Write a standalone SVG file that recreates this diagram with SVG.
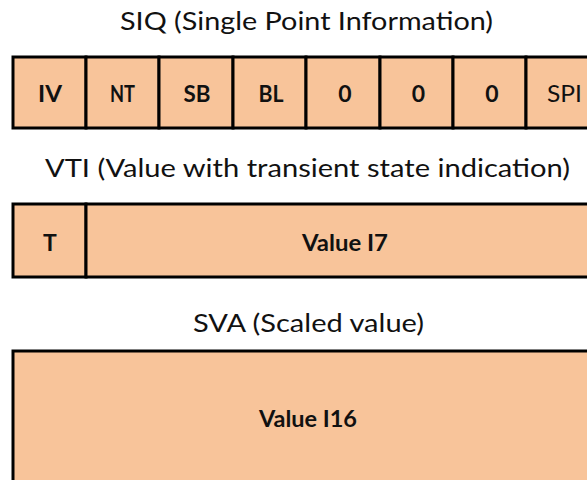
<svg xmlns="http://www.w3.org/2000/svg" width="587" height="480" viewBox="0 0 587 480">
  <style>
    .title { font-family: Lato, "Open Sans", "Liberation Sans", sans-serif; font-size: 25px; fill: #111; }
    .cell { fill: #F8C49A; stroke: #000; stroke-width: 3; }
    .lb { font-family: Lato, "Open Sans", "Liberation Sans", sans-serif; font-size: 23px; font-weight: bold; fill: #111; text-anchor: middle; }
    .ln { font-family: Lato, "Open Sans", "Liberation Sans", sans-serif; font-size: 23px; fill: #111; text-anchor: middle; }
  </style>
  <rect width="587" height="480" fill="#fff"/>

  <g id="siq">
    <text class="title" x="120" y="30" textLength="373" lengthAdjust="spacingAndGlyphs">SIQ (Single Point Information)</text>
    <rect class="cell" x="13" y="57" width="73" height="71"/>
    <rect class="cell" x="86" y="57" width="73" height="71"/>
    <rect class="cell" x="159" y="57" width="74" height="71"/>
    <rect class="cell" x="233" y="57" width="73" height="71"/>
    <rect class="cell" x="306" y="57" width="74" height="71"/>
    <rect class="cell" x="380" y="57" width="73" height="71"/>
    <rect class="cell" x="453" y="57" width="73" height="71"/>
    <rect class="cell" x="526" y="57" width="74" height="71"/>
    <text class="lb" x="50" y="102" textLength="24" lengthAdjust="spacingAndGlyphs">IV</text>
    <text class="lb" x="122.5" y="102" textLength="25" lengthAdjust="spacingAndGlyphs">NT</text>
    <text class="lb" x="197" y="102" textLength="27" lengthAdjust="spacingAndGlyphs">SB</text>
    <text class="lb" x="271" y="102" textLength="25" lengthAdjust="spacingAndGlyphs">BL</text>
    <text class="lb" x="345" y="102">0</text>
    <text class="lb" x="418.5" y="102">0</text>
    <text class="lb" x="492" y="102">0</text>
    <text class="ln" x="564.5" y="102" textLength="35" lengthAdjust="spacingAndGlyphs">SPI</text>
  </g>

  <g id="vti">
    <text class="title" x="45" y="177" textLength="525" lengthAdjust="spacingAndGlyphs">VTI (Value with transient state indication)</text>
    <rect class="cell" x="13" y="204" width="73" height="73"/>
    <rect class="cell" x="86" y="204" width="514" height="73"/>
    <text class="lb" x="50" y="251">T</text>
    <text class="lb" x="345" y="251" textLength="86" lengthAdjust="spacingAndGlyphs">Value I7</text>
  </g>

  <g id="sva">
    <text class="title" x="193" y="332" textLength="231" lengthAdjust="spacingAndGlyphs">SVA (Scaled value)</text>
    <rect class="cell" x="13" y="351" width="587" height="140"/>
    <text class="lb" x="308" y="427" textLength="98" lengthAdjust="spacingAndGlyphs">Value I16</text>
  </g>

  <g id="connectors"></g>
</svg>
